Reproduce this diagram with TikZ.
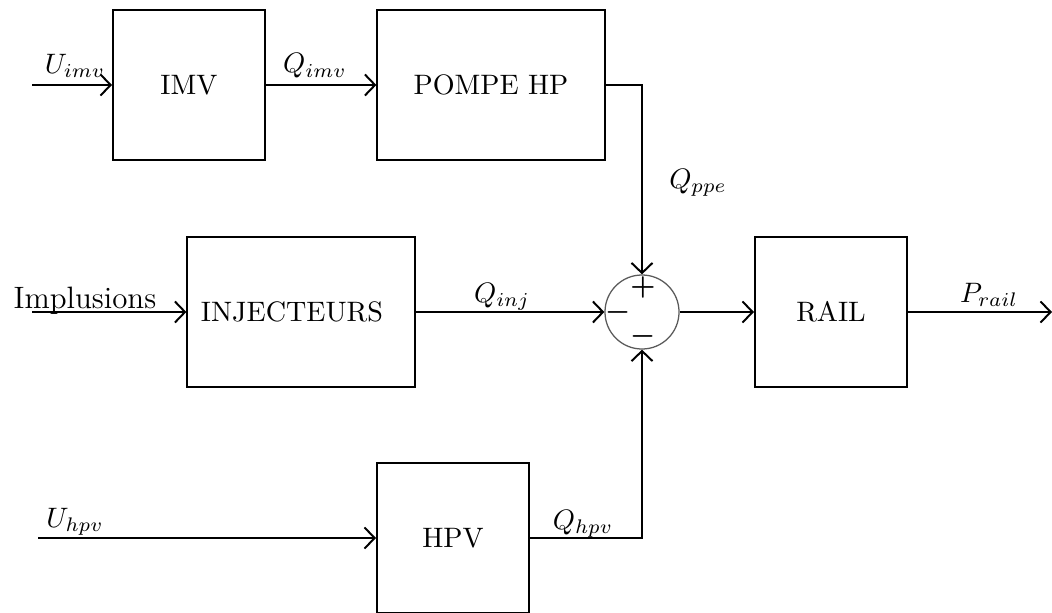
\documentclass[tikz,border=0pt]{standalone}
\usepackage{amsmath}
\usepackage{amssymb}
\usepackage{tikz}
\usetikzlibrary{positioning,arrows.meta}
\definecolor{cerclegris}{RGB}{90,90,90}
\tikzset{
  bloc/.style={draw,line width=0.7pt,minimum width=1.9cm,minimum height=1.88cm},
  bloclarge/.style={bloc,minimum width=2.84cm},
  sommateur/.style={circle,draw=cerclegris,line width=0.45pt,minimum size=0.925cm,inner sep=0pt},
  signe/.style={inner sep=0pt,font=\boldmath},
  fleche/.style={line width=0.7pt,-{Straight Barb[length=3.6pt,width=7.5pt]}},
}

\begin{document}
\begin{tikzpicture}[x=0.0125cm,y=-0.0125cm]
\useasboundingbox (0,0) rectangle (1052,612);
% blocs
\node[bloc] (imv) at (189,85) {IMV};
\node[bloclarge] (pompe) at (491,85) {POMPE HP};
\node[bloclarge] (inj) at (301,312) {};
\node (tinj) at (292,312) {INJECTEURS};
\node[sommateur] (som) at (642,312) {};
\node[bloc] (rail) at (831,312) {RAIL};
\node[bloc] (hpv) at (453,538) {HPV};
% signes du sommateur
\node[signe] (plus) at (643,287) {$+$};
\node[signe] (moinsg) at (618,312) {$-$};
\node[signe] (moinsb) at (643,336) {$-$};
% entrees et sortie
\coordinate (uimv) at (32,85);
\coordinate (impl) at (32,312);
\coordinate (uhpv) at (38,538);
\coordinate (prail) at (1052,312);
% liaisons
\draw[fleche] (uimv) -- (imv.west);
\draw[fleche] (imv.east) -- (pompe.west);
\draw[fleche] (pompe.east) -| (som.north);
\draw[fleche] (impl) -- (inj.west);
\draw[fleche] (inj.east) -- (som.west);
\draw[fleche] (som.east) -- (rail.west);
\draw[fleche] (rail.east) -- (prail);
\draw[fleche] (uhpv) -- (hpv.west);
\draw[fleche] (hpv.east) -| (som.south);
% etiquettes
\node (lUimv) at (75,66) {$U_{imv}$};
\node (lQimv) at (315,66) {$Q_{imv}$};
\node (lQppe) at (698,183) {$Q_{ppe}$};
\node[anchor=base,font=\fontsize{11pt}{13pt}\selectfont] (lImpl) at (85,308) {Implusions};
\node (lQinj) at (502,297) {$Q_{inj}$};
\node (lPrail) at (989,295) {$P_{rail}$};
\node (lUhpv) at (75,522) {$U_{hpv}$};
\node (lQhpv) at (583,524) {$Q_{hpv}$};
\end{tikzpicture}
\end{document}
